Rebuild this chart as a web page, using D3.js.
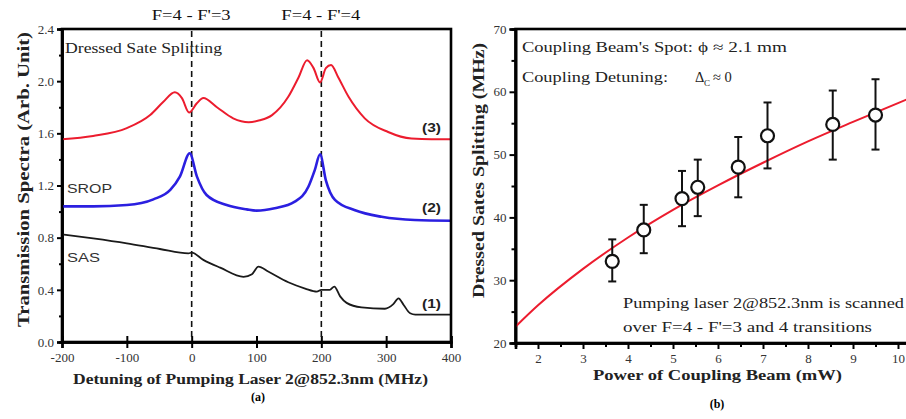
<!DOCTYPE html>
<html>
<head>
<meta charset="utf-8">
<script src="https://cdn.jsdelivr.net/npm/d3@7"></script>
<style>
  body { margin: 0; background: #fff; }
  svg text { font-family: "Liberation Serif", "Times New Roman", serif; }
</style>
</head>
<body>
<svg id="chart" width="906" height="419"></svg>
<script>
// ---- panel (a): transmission spectra ----
var satDetuning = [-200, -152, -100, -64, -44, -26, -15, -4, 8, 18, 39, 64, 88, 105, 124, 149, 165, 178, 188, 198, 207, 215, 226, 242, 267, 303, 339, 370, 400];
var satValues   = [1.554, 1.58, 1.64, 1.74, 1.84, 1.915, 1.87, 1.76, 1.83, 1.87, 1.80, 1.715, 1.685, 1.70, 1.74, 1.88, 2.03, 2.16, 2.10, 1.99, 2.10, 2.124, 2.03, 1.88, 1.715, 1.61, 1.56, 1.555, 1.555];

var sropDetuning = [-200, -152, -100, -59, -33, -18, -3, 8, 23, 54, 85, 100, 128, 159, 180, 190, 198, 207, 221, 252, 293, 344, 400];
var sropValues   = [1.04, 1.04, 1.05, 1.094, 1.166, 1.27, 1.447, 1.27, 1.127, 1.05, 1.017, 1.007, 1.025, 1.076, 1.19, 1.32, 1.44, 1.24, 1.09, 1.01, 0.96, 0.935, 0.93];

var sasDetuning = [-200, -152, -100, -49, -5, 0, 18, 44, 80, 93, 103, 118, 149, 175, 193, 200, 213, 220, 229, 239, 262, 298, 311, 319, 327, 337, 345, 400];
var sasValues   = [0.826, 0.795, 0.757, 0.713, 0.68, 0.685, 0.63, 0.57, 0.50, 0.52, 0.578, 0.54, 0.458, 0.41, 0.386, 0.40, 0.40, 0.425, 0.35, 0.30, 0.265, 0.255, 0.29, 0.335, 0.284, 0.22, 0.21, 0.21];

var xTicksA = [-200, -100, 0, 100, 200, 300, 400];
var yTicksA = [0.0, 0.4, 0.8, 1.2, 1.6, 2.0, 2.4];
var transitions = [0, 200];
var transitionLabels = ["F=4 - F'=3", "F=4 - F'=4"];

// ---- panel (b): splitting vs coupling power ----
var powerMW    = [3.65, 4.35, 5.2, 5.55, 6.45, 7.1, 8.55, 9.5];
var splitting  = [33, 38, 43, 44.8, 48, 53, 54.8, 56.3];
var errLow     = [29.8, 34.3, 38.6, 40.2, 43.2, 47.8, 49.2, 50.8];
var errHigh    = [36.5, 42, 47.4, 49.2, 52.8, 58.3, 60.2, 62];
var fitPower   = [1.5, 2, 3, 4, 5, 6, 7, 8, 9, 10, 10.2];
var fitValues  = [22.6, 26.0, 31.8, 36.8, 41.2, 45.1, 48.7, 52.1, 55.2, 58.2, 58.8];
var xTicksB = [2, 3, 4, 5, 6, 7, 8, 9, 10];
var yTicksB = [20, 30, 40, 50, 60, 70];

var svg = d3.select("#chart");

// the source figure is a bit stretched sideways, so squeeze text to its width
function stretch(sel, len) {
  return sel.attr("textLength", len).attr("lengthAdjust", "spacingAndGlyphs");
}

// ================= panel (a) =================
var xa = d3.scaleLinear().domain([-200, 400]).range([62, 451]);
var ya = d3.scaleLinear().domain([0, 2.4]).range([342, 29]);

var ga = svg.append("g");

ga.append("g").attr("transform", "translate(0,342)")
  .call(d3.axisBottom(xa).tickValues(xTicksA).tickSize(6).tickPadding(5).tickFormat(function (d) { return String(d) }))
  .call(styleAxis);
ga.append("g").attr("transform", "translate(0,342)")
  .call(d3.axisBottom(xa).tickValues(xTicksA).tickSize(-6).tickFormat(""))
  .call(styleAxis);
ga.append("g").attr("transform", "translate(62,0)")
  .call(d3.axisLeft(ya).tickValues(yTicksA).tickSize(5).tickFormat(d3.format(".1f")))
  .call(styleAxis);
ga.append("g").attr("transform", "translate(62,0)")
  .call(d3.axisLeft(ya).tickValues(d3.range(0.2, 2.4, 0.4)).tickSize(3).tickFormat(""))
  .call(styleAxis);

// transition markers
ga.selectAll(".trans").data(transitions).enter().append("line")
  .attr("x1", function (d) { return xa(d) }).attr("x2", function (d) { return xa(d) })
  .attr("y1", 31).attr("y2", 342)
  .attr("stroke", "#111").attr("stroke-width", 1.6).attr("stroke-dasharray", "6,4");
ga.selectAll(".translab").data(transitions).enter().append("text")
  .attr("x", function (d) { return xa(d) - 40 }).attr("y", 20)
  .attr("font-size", 14).attr("fill", "#111")
  .attr("textLength", 79).attr("lengthAdjust", "spacingAndGlyphs")
  .text(function (d, i) { return transitionLabels[i] });

var lineA = function (xs, ys) {
  return d3.line().curve(d3.curveMonotoneX)
    .x(function (d, i) { return xa(xs[i]) })
    .y(function (d, i) { return ya(ys[i]) })(xs);
};
ga.append("path").attr("d", lineA(satDetuning, satValues))
  .attr("fill", "none").attr("stroke", "#ec1c2e").attr("stroke-width", 2);
ga.append("path").attr("d", lineA(sropDetuning, sropValues))
  .attr("fill", "none").attr("stroke", "#2b1fe0").attr("stroke-width", 2.6);
ga.append("path").attr("d", lineA(sasDetuning, sasValues))
  .attr("fill", "none").attr("stroke", "#1a1a1a").attr("stroke-width", 1.8);

ga.append("rect").attr("x", 62).attr("y", 29).attr("width", 389).attr("height", 313)
  .attr("fill", "none").attr("stroke", "#000").attr("stroke-width", 2.6);

// in-plot labels
stretch(ga.append("text").attr("x", 65).attr("y", 53).attr("font-size", 14.5).attr("fill", "#222"), 157)
  .text("Dressed Sate Splitting");
stretch(ga.append("text").attr("x", 67).attr("y", 193).attr("font-size", 13).attr("fill", "#333")
  .style("font-family", "'Liberation Sans', sans-serif"), 45).text("SROP");
stretch(ga.append("text").attr("x", 67).attr("y", 262).attr("font-size", 13).attr("fill", "#333")
  .style("font-family", "'Liberation Sans', sans-serif"), 33).text("SAS");
[["(3)", 132], ["(2)", 212], ["(1)", 308]].forEach(function (p) {
  stretch(ga.append("text").attr("x", 422).attr("y", p[1]).attr("font-size", 13).attr("font-weight", "bold")
    .style("font-family", "'Liberation Sans', sans-serif").attr("fill", "#222"), 19).text(p[0]);
});

// titles
stretch(ga.append("text").attr("x", 73).attr("y", 384)
  .attr("font-size", 15.5).attr("font-weight", "bold").attr("fill", "#222"), 355)
  .text("Detuning of Pumping Laser 2@852.3nm  (MHz)");
ga.append("text").attr("x", 258).attr("y", 401).attr("text-anchor", "middle")
  .attr("font-size", 12).attr("font-weight", "bold").text("(a)");
stretch(ga.append("text").attr("transform", "translate(29,327) rotate(-90)")
  .attr("font-size", 17).attr("font-weight", "bold").attr("fill", "#222"), 295)
  .text("Transmission Spectra  (Arb. Unit)");

// ================= panel (b) =================
var xb = d3.scaleLinear().domain([1.5, 10.2]).range([515.5, 907]);
var yb = d3.scaleLinear().domain([20, 70]).range([343, 29]);
var gb = svg.append("g");

gb.append("g").attr("transform", "translate(0,343)")
  .call(d3.axisBottom(xb).tickValues(xTicksB).tickSize(6).tickPadding(5).tickFormat(d3.format("d")))
  .call(styleAxis);
gb.append("g").attr("transform", "translate(0,343)")
  .call(d3.axisBottom(xb).tickValues(d3.range(2.5, 10.1, 1)).tickSize(4).tickFormat(""))
  .call(styleAxis);
gb.append("g").attr("transform", "translate(515.5,0)")
  .call(d3.axisLeft(yb).tickValues(yTicksB).tickSize(6).tickFormat(d3.format("d")))
  .call(styleAxis);
gb.append("g").attr("transform", "translate(515.5,0)")
  .call(d3.axisLeft(yb).tickValues(d3.range(25, 70, 10)).tickSize(4).tickFormat(""))
  .call(styleAxis);

// fit curve
gb.append("path")
  .attr("d", d3.line().curve(d3.curveMonotoneX)
    .x(function (d, i) { return xb(fitPower[i]) })
    .y(function (d, i) { return yb(fitValues[i]) })(fitPower))
  .attr("fill", "none").attr("stroke", "#ec1c2e").attr("stroke-width", 2);

// error bars
var eb = gb.selectAll(".err").data(powerMW).enter().append("g");
eb.append("line")
  .attr("x1", function (d) { return xb(d) }).attr("x2", function (d) { return xb(d) })
  .attr("y1", function (d, i) { return yb(errLow[i]) }).attr("y2", function (d, i) { return yb(errHigh[i]) })
  .attr("stroke", "#111").attr("stroke-width", 2);
eb.append("line")
  .attr("x1", function (d) { return xb(d) - 4 }).attr("x2", function (d) { return xb(d) + 4 })
  .attr("y1", function (d, i) { return yb(errLow[i]) }).attr("y2", function (d, i) { return yb(errLow[i]) })
  .attr("stroke", "#111").attr("stroke-width", 2);
eb.append("line")
  .attr("x1", function (d) { return xb(d) - 4 }).attr("x2", function (d) { return xb(d) + 4 })
  .attr("y1", function (d, i) { return yb(errHigh[i]) }).attr("y2", function (d, i) { return yb(errHigh[i]) })
  .attr("stroke", "#111").attr("stroke-width", 2);
gb.selectAll(".pt").data(powerMW).enter().append("circle")
  .attr("cx", function (d) { return xb(d) })
  .attr("cy", function (d, i) { return yb(splitting[i]) })
  .attr("r", 6.5).attr("fill", "#fff").attr("stroke", "#111").attr("stroke-width", 2.2);

gb.append("rect").attr("x", 515.5).attr("y", 29).attr("width", 394).attr("height", 314)
  .attr("fill", "none").attr("stroke", "#000").attr("stroke-width", 2.6);

// annotations
stretch(gb.append("text").attr("x", 522).attr("y", 52).attr("font-size", 14.5).attr("fill", "#222"), 171)
  .text("Coupling Beam's Spot:");
stretch(gb.append("text").attr("x", 698).attr("y", 52).attr("font-size", 14.5).attr("fill", "#222"), 89)
  .text("\u03d5 \u2248 2.1 mm");
stretch(gb.append("text").attr("x", 522).attr("y", 82).attr("font-size", 14.5).attr("fill", "#222"), 146)
  .text("Coupling Detuning:");
var t2 = gb.append("text").attr("y", 82).attr("font-size", 14.5).attr("fill", "#222");
t2.append("tspan").attr("x", 695).text("\u0394");
t2.append("tspan").attr("x", 704).attr("font-size", 9).attr("dy", 4).text("C");
t2.append("tspan").attr("x", 713).attr("dy", -4).text("\u2248 0");
stretch(gb.append("text").attr("x", 623).attr("y", 308).attr("font-size", 15.5).attr("fill", "#222"), 281)
  .text("Pumping laser 2@852.3nm is scanned");
stretch(gb.append("text").attr("x", 623).attr("y", 332).attr("font-size", 15.5).attr("fill", "#222"), 249)
  .text("over F=4 - F'=3 and 4  transitions");

stretch(gb.append("text").attr("x", 593).attr("y", 380)
  .attr("font-size", 15.5).attr("font-weight", "bold").attr("fill", "#222"), 249)
  .text("Power of Coupling Beam (mW)");
gb.append("text").attr("x", 717).attr("y", 408).attr("text-anchor", "middle")
  .attr("font-size", 12).attr("font-weight", "bold").text("(b)");
stretch(gb.append("text").attr("transform", "translate(484,298) rotate(-90)")
  .attr("font-size", 16).attr("font-weight", "bold").attr("fill", "#222"), 255)
  .text("Dressed Sates Splitting (MHz)");

function styleAxis(g) {
  g.attr("font-family", null);
  g.select(".domain").attr("stroke", "#000").attr("stroke-width", 2.6);
  g.selectAll(".tick line").attr("stroke", "#000").attr("stroke-width", 2);
  g.selectAll(".tick text").attr("font-size", 13).attr("fill", "#333");
}
</script>
</body>
</html>
